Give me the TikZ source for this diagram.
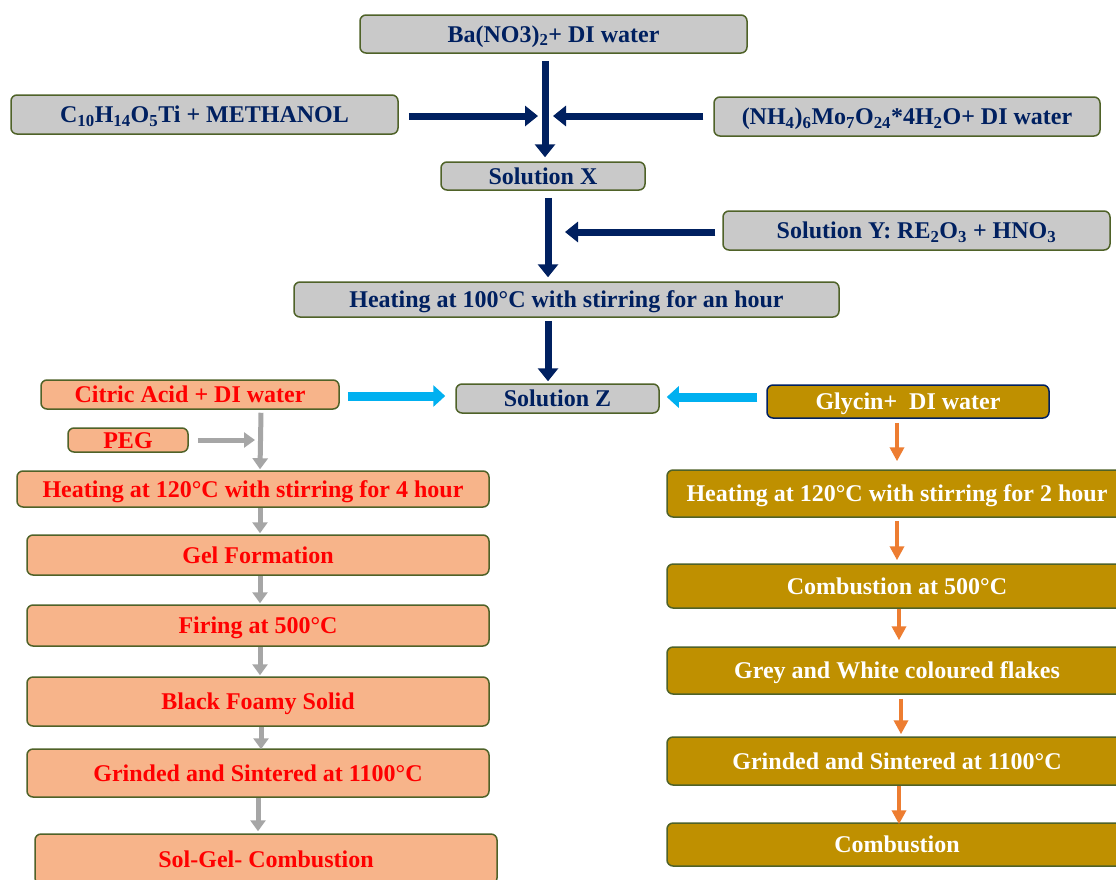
\documentclass[tikz,border=0pt]{standalone}
\usepackage{fontspec}
\setmainfont{Liberation Serif}
\usetikzlibrary{arrows.meta,calc}
\definecolor{navy}{HTML}{002060}
\definecolor{boxgray}{HTML}{C9C9C9}
\definecolor{olive}{HTML}{4F6228}
\definecolor{salmon}{HTML}{F7B48A}
\definecolor{gold}{HTML}{BF9000}
\definecolor{cyanarr}{HTML}{00B0F0}
\definecolor{grayarr}{HTML}{A6A6A6}
\definecolor{orangearr}{HTML}{ED7D31}
\begin{document}
\begin{tikzpicture}[x=1pt,y=-1pt,
  base/.style={rounded corners=6pt, line width=1.5pt, draw=olive, inner sep=0pt,
    font=\fontsize{24}{28}\selectfont\bfseries, align=center, text height=20pt, text depth=4pt},
  graybox/.style={base, fill=boxgray, text=navy},
  leftbox/.style={base, fill=salmon, text=red},
  rightbox/.style={base, fill=gold, text=white},
  navyarr/.style={draw=navy, line width=7pt, -{Triangle[width=20pt,length=13pt]}},
  cyarr/.style={draw=cyanarr, line width=9pt, -{Triangle[width=21pt,length=12pt]}},
  grarr/.style={draw=grayarr, line width=5pt, -{Triangle[width=15pt,length=11pt]}},
  orarr/.style={draw=orangearr, line width=4pt, -{Triangle[width=14pt,length=14pt]}},
]
\useasboundingbox (0,0) rectangle (1116,879);
\clip (0,0) rectangle (1116,879);
\fill[white] (0,0) rectangle (1116,879);

% top gray boxes
\node[graybox, minimum width=387pt, minimum height=38pt] (ba) at (553.5,34) {Ba(NO3)\textsubscript{2}+ DI water};
\node[graybox, minimum width=387pt, minimum height=39pt] (c10) at (204.5,114.5) {C\textsubscript{10}H\textsubscript{14}O\textsubscript{5}Ti + METHANOL};
\node[graybox, minimum width=386pt, minimum height=39pt] (nh4) at (907,116.5) {(NH\textsubscript{4})\textsubscript{6}Mo\textsubscript{7}O\textsubscript{24}*4H\textsubscript{2}O+ DI water};
\node[graybox, minimum width=204pt, minimum height=28pt] (solx) at (543,176) {Solution X};
\node[graybox, minimum width=387pt, minimum height=39pt] (soly) at (916.5,230.5) {Solution Y: RE\textsubscript{2}O\textsubscript{3} + HNO\textsubscript{3}};
\node[graybox, minimum width=545pt, minimum height=35pt] (heat100) at (566.5,299.5) {Heating at 100°C with stirring for an hour};
\node[graybox, minimum width=203pt, minimum height=29pt] (solz) at (557.5,398.5) {Solution Z};

% left column
\node[leftbox, minimum width=298pt, minimum height=29pt] (cit) at (190,394.5) {Citric Acid + DI water};
\node[leftbox, minimum width=120pt, minimum height=24pt] (peg) at (128,440) {PEG};
\node[leftbox, minimum width=472pt, minimum height=36pt] (heat4) at (253,489) {Heating at 120°C with stirring for 4 hour};
\node[leftbox, minimum width=462pt, minimum height=40pt] (gel) at (258,555) {Gel Formation};
\node[leftbox, minimum width=462pt, minimum height=41pt] (fire) at (258,625.5) {Firing at 500°C};
\node[leftbox, minimum width=462pt, minimum height=49pt] (foam) at (258,701.5) {Black Foamy Solid};
\node[leftbox, minimum width=462pt, minimum height=48pt] (grindL) at (258,773) {Grinded and Sintered at 1100°C};
\node[leftbox, minimum width=462pt, minimum height=50pt] (solgel) at (266,859) {Sol-Gel- Combustion};

% right column
\node[rightbox, draw=navy, minimum width=282pt, minimum height=33pt] (gly) at (908,401.5) {Glycin+~ DI water};
\node[rightbox, minimum width=460pt, minimum height=47pt] (heat2) at (897,493.5) {Heating at 120°C with stirring for 2 hour};
\node[rightbox, minimum width=460pt, minimum height=44pt] (comb5) at (897,586) {Combustion at 500°C};
\node[rightbox, minimum width=460pt, minimum height=47pt] (flakes) at (897,670.5) {Grey and White coloured flakes};
\node[rightbox, minimum width=460pt, minimum height=48pt] (grindR) at (897,761) {Grinded and Sintered at 1100°C};
\node[rightbox, minimum width=460pt, minimum height=43pt] (comb) at (897,844.5) {Combustion};

% navy arrows
\coordinate (j1) at (538,116);
\coordinate (j2) at (553,116);
\coordinate (j3) at (565,232);
\draw[navyarr] ([yshift=-7pt]ba.south -| 545,0) -- ([yshift=4pt]solx.north -| 545,0);
\draw[navyarr] ([xshift=10pt]c10.east |- j1) -- (j1);
\draw[navyarr] ([xshift=-10pt]nh4.west |- j2) -- (j2);
\draw[navyarr] ([yshift=-7pt]solx.south -| 548,0) -- ([yshift=4pt]heat100.north -| 548,0);
\draw[navyarr] ([xshift=-7pt]soly.west |- j3) -- (j3);
\draw[navyarr] ([yshift=-3pt]heat100.south -| 548,0) -- ([yshift=2pt]solz.north -| 548,0);

% cyan arrows
\draw[cyarr] ([xshift=8pt]cit.east |- 0,396) -- ([xshift=-10pt]solz.west |- 0,396);
\draw[cyarr] ([xshift=-9pt]gly.west |- 0,397) -- ([xshift=7pt]solz.east |- 0,397);

% gray arrows
\coordinate (pj) at (255,440);
\draw[grarr] ([yshift=-3pt]cit.south -| 261,0) -- ([yshift=1pt]heat4.north -| 260,0);
\draw[grarr] ([xshift=9pt]peg.east) -- (pj);
\draw[grarr] (heat4.south -| 260,0) -- ([yshift=1pt]gel.north -| 260,0);
\draw[grarr] (gel.south -| 260,0) -- ([yshift=1pt]fire.north -| 260,0);
\draw[grarr] (fire.south -| 260,0) -- ([yshift=1pt]foam.north -| 260,0);
\draw[grarr] (foam.south -| 261,0) -- ([yshift=-1pt]grindL.north -| 261,0);
\draw[grarr] (grindL.south -| 258,0) -- ([yshift=2pt]solgel.north -| 258,0);

% orange arrows
\draw[orarr] ([yshift=-4pt]gly.south -| 897,0) -- ([yshift=8pt]heat2.north -| 897,0);
\draw[orarr] ([yshift=-3pt]heat2.south -| 897,0) -- ([yshift=3pt]comb5.north -| 897,0);
\draw[orarr] (comb5.south -| 899,0) -- ([yshift=6pt]flakes.north -| 899,0);
\draw[orarr] ([yshift=-4pt]flakes.south -| 901,0) -- ([yshift=2pt]grindR.north -| 901,0);
\draw[orarr] (grindR.south -| 899,0) -- ([yshift=-2pt]comb.north -| 899,0);
\end{tikzpicture}
\end{document}
